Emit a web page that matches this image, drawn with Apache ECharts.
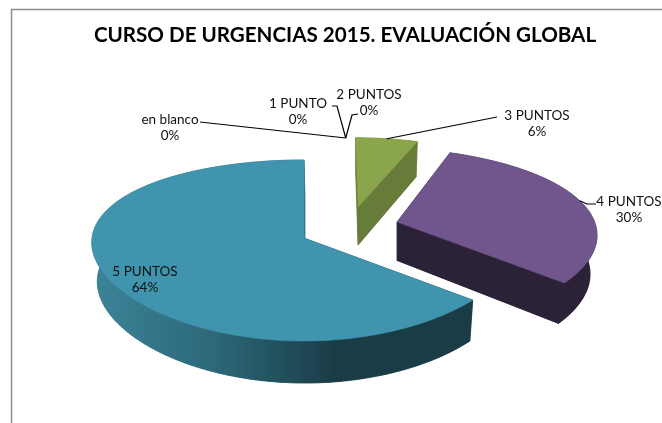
<!DOCTYPE html>
<html><head><meta charset="utf-8">
<style>html,body{margin:0;padding:0;background:#fff}#c{width:662px;height:423px}</style>
<script src="https://cdn.jsdelivr.net/npm/echarts@6/dist/echarts.min.js"></script>
</head><body><div id="c"></div>
<script>
const titleText = 'CURSO DE URGENCIAS 2015. EVALUACIÓN GLOBAL';
const categories = ['en blanco', '1 PUNTO', '2 PUNTOS', '3 PUNTOS', '4 PUNTOS', '5 PUNTOS'];
const values = [0, 0, 0, 5.7, 30.3, 64.0];

// layout
const C = {cx:304, cy:238, rx:212, ry:88.8, kx:0.05, ky:0.138, depthFar:36, depthNear:42};
const explode = [[.21,.333],[.21,.333],[.21,.333],[.26,.367],[.443,.185],[0,0]];
const radiusScale = [[1,1],[1,1],[1,1],[.88,.97],[.945,1],[1,1]];
const shear = [[0,0],[0,0],[0,0],[0,0],[-10,3],[0,0]];
const wallShrink = [1,1,1,.98,.965,.978];
const vanishOffset = [0,0,0,0,0,40];
const labelCenter = [[170,128],[298,112],[369,103],[537,124],[629,210],[145,280]];
const leaderFrac = [.5,.5,.5,.5,.48,null];
const leaderVia = [[[200,122]],[[337,106],[332,106]],[[352,115],[358,114]],[[497,117]],[[587,204],[596,204]],null];
const topColors = ['#000','#000','#000','#8AA54C','#70568C','#4094AD'];
const sideColors = ['#000','#000','#000','#677C39','#2C2238',null];

const total = values.reduce((a,b)=>a+b,0);
const starts = []; let acc = 0;
values.forEach(v=>{starts.push(acc/total*2*Math.PI); acc+=v;});

function proj(u,v){
  return [C.cx + C.rx*u/(1+C.kx*v), C.cy - C.ry*v/(1+C.ky*v)];
}
function low(i,p,v,ox){
  const d = C.depthNear + (C.depthFar-C.depthNear)*(v+1)/2;
  return [ox + (p[0]-ox)*wallShrink[i], p[1]+d];
}
function ptAt(i,a){
  const r=radiusScale[i];
  return [explode[i][0]+r[0]*Math.sin(a), explode[i][1]+r[1]*Math.cos(a)];
}
function projSlice(i,uv){
  const p=proj(uv[0],uv[1]), s=shear[i];
  return [p[0]+s[0]*(uv[1]-explode[i][1]), p[1]+s[1]*(uv[0]-explode[i][0])];
}
function sliceElements(i){
  const a0=starts[i], a1=a0+values[i]/total*2*Math.PI;
  const n=Math.max(2,Math.round((a1-a0)/0.02));
  const apexUV=explode[i];
  const apex=projSlice(i,apexUV);
  const ox=apex[0]+vanishOffset[i];
  const arcT=[],arcB=[];
  for(let k=0;k<=n;k++){
    const a=a0+(a1-a0)*k/n, uv=ptAt(i,a), p=projSlice(i,uv);
    arcT.push(p); arcB.push(low(i,p,uv[1],ox));
  }
  const apexB=low(i,apex,apexUV[1],ox);
  const side = sideColors[i] || new echarts.graphic.LinearGradient(95,0,335,0,[
    {offset:0,color:'#3C8398'},{offset:.5,color:'#2C6878'},{offset:1,color:'#1A3C47'}],true);
  const poly=(pts,fill)=>({type:'polygon',shape:{points:pts},style:{fill:fill,stroke:fill,lineWidth:.5}});
  return [
    poly([apexB].concat(arcB),side),
    poly(arcT.concat(arcB.slice().reverse()),side),
    poly([apex,arcT[0],arcB[0],apexB],side),
    poly([apex,arcT[n],arcB[n],apexB],sideColors[i]||'#2F7488'),
    poly([apex].concat(arcT),topColors[i])
  ];
}
function leaderElements(i){
  if(!leaderVia[i]) return [];
  const a=starts[i]+values[i]/total*2*Math.PI*leaderFrac[i];
  const pts=[projSlice(i,ptAt(i,a))].concat(leaderVia[i]);
  return [{type:'polyline',shape:{points:pts},style:{stroke:'#000',lineWidth:1.2,fill:'none'}}];
}
function labelElement(i){
  const pct=Math.round(values[i]/total*100)+'%';
  return {type:'text',x:labelCenter[i][0],y:labelCenter[i][1],
    style:{text:categories[i]+'\n'+pct,fill:'#111',font:'13.5px Lato',lineHeight:16,align:'center',verticalAlign:'middle'}};
}
const order=[5,3,4];
const chart=echarts.init(document.getElementById('c'),null,{renderer:'canvas'});
chart.setOption({
  animation:false,
  backgroundColor:'#fff',
  title:{text:titleText,left:340,top:20,textAlign:'center',textStyle:{fontFamily:'Lato',fontWeight:'bold',fontSize:20.6,color:'#000'}},
  graphic:[
    {type:'polyline',shape:{points:[[11.5,423],[11.5,9.5],[662,9.5]]},style:{stroke:'#8c8c8c',lineWidth:1.5,fill:'none'},silent:true}
  ],
  series:[{
    type:'custom',coordinateSystem:'none',silent:true,
    data:order,
    renderItem:(p,api)=>({type:'group',children:sliceElements(order[p.dataIndex])})
  },{
    type:'custom',coordinateSystem:'none',silent:true,
    data:categories,
    renderItem:(p,api)=>({type:'group',children:leaderElements(p.dataIndex).concat([labelElement(p.dataIndex)])})
  }]
});
</script></body></html>
